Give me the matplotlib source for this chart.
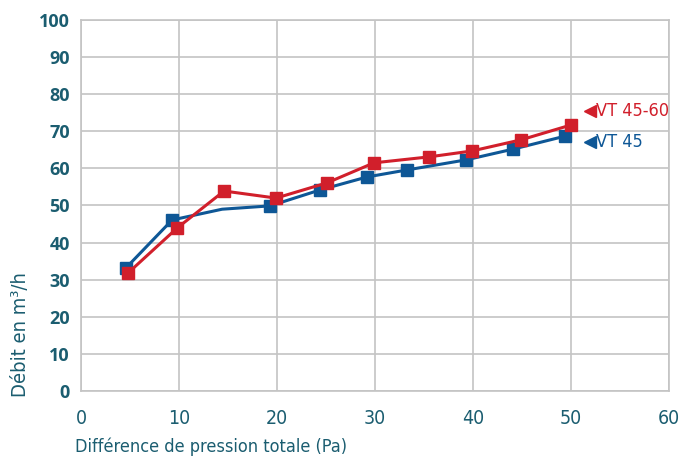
import matplotlib
matplotlib.use("Agg")
import matplotlib.pyplot as plt

# VT 45 (blue) - the point near x=14 has no marker in the reference
vt45_x = [4.6, 9.3, 14.4, 19.3, 24.4, 29.2, 33.3, 39.3, 44.1, 49.4]
vt45_y = [33.2, 46.1, 49.0, 49.9, 54.2, 57.7, 59.6, 62.3, 65.2, 68.7]
vt45_marked = [0, 1, 3, 4, 5, 6, 7, 8, 9]

# VT 45-60 (red)
vt4560_x = [4.8, 9.8, 14.6, 19.9, 25.1, 29.9, 35.5, 39.9, 44.9, 50.0]
vt4560_y = [31.8, 43.9, 53.9, 52.0, 56.1, 61.5, 63.1, 64.7, 67.7, 71.7]

x_ticks = [0, 10, 20, 30, 40, 50, 60]
y_ticks = [0, 10, 20, 30, 40, 50, 60, 70, 80, 90, 100]

BLUE = "#0e5796"
RED = "#d11f2b"
TEAL = "#1b5d70"
GRID = "#c4c4c4"
cond = ["DejaVu Sans", "Liberation Sans"]

fig = plt.figure(figsize=(6.88, 4.62), dpi=100)
ax = fig.add_axes([0.1177, 0.1537, 0.8547, 0.803])

ax.plot(vt45_x, vt45_y, color=BLUE, lw=2.2, marker="s", ms=8,
        markevery=vt45_marked, zorder=3)
ax.plot(vt4560_x, vt4560_y, color=RED, lw=2.2, marker="s", ms=8, zorder=4)

ax.set_xlim(0, 60)
ax.set_ylim(0, 100)
ax.set_xticks(x_ticks)
ax.set_yticks(y_ticks)
ax.grid(True, color=GRID, lw=1.2)
ax.set_axisbelow(True)
for s in ax.spines.values():
    s.set_color(GRID)
    s.set_linewidth(1.2)
ax.tick_params(length=0, labelcolor=TEAL)
ax.tick_params(axis="x", pad=13, labelsize=14)
ax.tick_params(axis="y", pad=8, labelsize=13)
for lab in ax.get_yticklabels():
    lab.set_fontweight("bold")
    lab.set_fontfamily("Open Sans")
for lab in ax.get_xticklabels():
    lab.set_fontweight("medium")
    lab.set_fontfamily(cond)
    lab.set_fontstretch("condensed")

# series labels with arrowheads
ax.plot([51.9], [75.6], marker="<", color=RED, ms=8, clip_on=False)
ax.text(52.5, 75.6, "VT 45-60", color=RED, fontsize=13, va="center",
        family=cond, stretch="condensed")
ax.plot([51.9], [67.1], marker="<", color=BLUE, ms=8, clip_on=False)
ax.text(52.5, 67.1, "VT 45", color=BLUE, fontsize=13, va="center",
        family=cond, stretch="condensed")

fig.text(0.109, 0.012, "Différence de pression totale (Pa)", color=TEAL,
         fontsize=13, family=cond, stretch="condensed", ha="left", va="bottom")
fig.text(0.03, 0.141, "Débit en m³/h", color=TEAL, fontsize=14.5,
         family=cond, stretch="condensed", rotation=90, ha="center", va="bottom")

fig.savefig("out.png", dpi=100)
